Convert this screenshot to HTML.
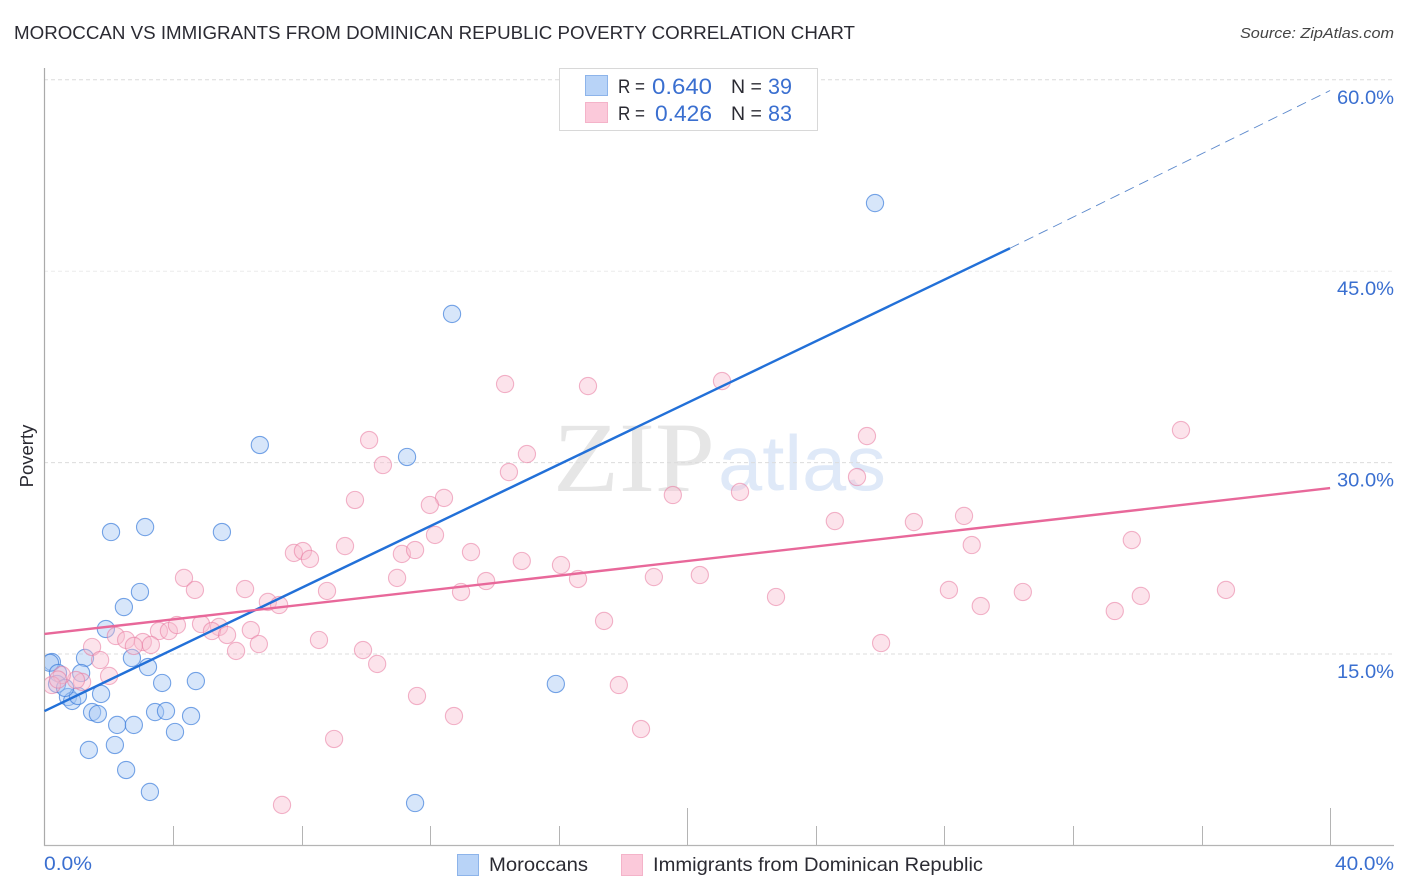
<!DOCTYPE html>
<html lang="en">
<head>
<meta charset="utf-8">
<title>Moroccan vs Immigrants from Dominican Republic Poverty Correlation Chart</title>
<style>
html,body{margin:0;padding:0;background:#fff;}
svg{display:block;font-family:"Liberation Sans",sans-serif;}
</style>
</head>
<body>
<svg id="chart" xmlns="http://www.w3.org/2000/svg" width="1406" height="892" viewBox="0 0 1406 892">
<defs><clipPath id="plot-clip"><rect x="45" y="60" width="1350" height="786"/></clipPath></defs>
<rect width="1406" height="892" fill="#fff"/>
<g>
<text x="553" y="491" font-family="'Liberation Serif',serif" font-size="100" fill="#e6e6e6" textLength="162" lengthAdjust="spacingAndGlyphs">ZIP</text>
<text x="718" y="490" font-size="78" fill="#dfe9f8" textLength="168" lengthAdjust="spacingAndGlyphs">atlas</text>
</g>
<g id="grid"></g>
<g id="axes"></g>
<g clip-path="url(#plot-clip)">
<g id="series-moroccans"></g>
<g id="series-dominican"></g>
</g>
<g id="trends"></g>
<g id="ylabels"></g>
<text x="14" y="39" font-size="18.5" fill="#2b2b33" textLength="841" lengthAdjust="spacingAndGlyphs">MOROCCAN VS IMMIGRANTS FROM DOMINICAN REPUBLIC POVERTY CORRELATION CHART</text>
<text x="1394" y="38" text-anchor="end" font-size="15" font-style="italic" fill="#444" textLength="154" lengthAdjust="spacingAndGlyphs">Source: ZipAtlas.com</text>
<text transform="translate(33,456) rotate(-90)" text-anchor="middle" font-size="18.5" fill="#2b2b33">Poverty</text>
<g>
<rect x="559.5" y="68.5" width="258" height="62" fill="#fff" stroke="#d8d8d8"/>
<rect x="585.5" y="75.5" width="22" height="20" fill="#b8d3f7" stroke="#8db4ea"/>
<rect x="585.5" y="102.5" width="22" height="20" fill="#fbc9da" stroke="#f4b3c9"/>
<text x="618" y="93" font-size="19.5" fill="#2b2b33" textLength="27" lengthAdjust="spacingAndGlyphs">R =</text>
<text x="652" y="94" font-size="22" fill="#3a6fd0" textLength="60" lengthAdjust="spacingAndGlyphs">0.640</text>
<text x="731" y="93" font-size="19.5" fill="#2b2b33">N =</text>
<text x="768" y="94" font-size="22" fill="#3a6fd0" textLength="24" lengthAdjust="spacingAndGlyphs">39</text>
<text x="618" y="120" font-size="19.5" fill="#2b2b33" textLength="27" lengthAdjust="spacingAndGlyphs">R =</text>
<text x="655" y="121" font-size="22" fill="#3a6fd0" textLength="57" lengthAdjust="spacingAndGlyphs">0.426</text>
<text x="731" y="120" font-size="19.5" fill="#2b2b33">N =</text>
<text x="768" y="121" font-size="22" fill="#3a6fd0" textLength="24" lengthAdjust="spacingAndGlyphs">83</text>
</g>
<text x="44" y="870" font-size="19.5" fill="#3a6fd0" textLength="48" lengthAdjust="spacingAndGlyphs">0.0%</text>
<text x="1394" y="870" text-anchor="end" font-size="19.5" fill="#3a6fd0" textLength="59" lengthAdjust="spacingAndGlyphs">40.0%</text>
<g>
<rect x="457.5" y="854.5" width="21" height="21" fill="#b8d3f7" stroke="#8db4ea"/>
<text x="489" y="871" font-size="19.5" fill="#2b2b33" textLength="99" lengthAdjust="spacingAndGlyphs">Moroccans</text>
<rect x="621.5" y="854.5" width="21" height="21" fill="#fbc9da" stroke="#f4b3c9"/>
<text x="653" y="871" font-size="19.5" fill="#2b2b33" textLength="330" lengthAdjust="spacingAndGlyphs">Immigrants from Dominican Republic</text>
</g>
</svg>
<script>
var yTicks = [15, 30, 45, 60];
var yTickLabels = ['15.0%', '30.0%', '45.0%', '60.0%'];
var xTicks = [4, 8, 12, 16, 20, 24, 28, 32, 36, 40];
var majorXTicks = [20, 40];

var moroccanX = [25.84,12.68,6.70,11.28,2.07,3.13,5.52,2.97,2.47,1.91,1.26,2.72,3.22,1.14,3.66,4.71,15.91,1.76,0.73,0.86,1.04,1.48,1.66,3.44,3.78,4.56,2.26,2.78,4.06,2.19,1.38,2.54,3.28,11.53,0.23,0.17,0.42,0.39,0.64];
var moroccanY = [50.34,41.65,31.38,30.44,24.56,24.95,24.56,19.86,18.68,16.96,14.69,14.69,13.98,13.51,12.73,12.88,12.65,11.87,11.63,11.32,11.71,10.45,10.30,10.45,10.53,10.14,9.44,9.44,8.89,7.87,7.48,5.91,4.19,3.32,14.37,14.30,13.51,12.65,12.34];

var dominicanX = [14.33,16.91,21.08,10.10,10.53,15.01,14.45,25.59,35.36,25.28,9.66,12.43,11.99,19.55,21.64,24.59,27.05,28.61,12.15,9.35,28.85,33.83,7.76,8.04,8.26,11.12,11.53,13.27,14.85,16.07,20.39,18.96,16.60,13.74,10.97,4.34,4.68,6.24,8.79,12.96,28.14,30.44,34.11,36.76,22.76,29.13,33.30,6.95,7.30,17.41,6.42,3.56,3.87,4.12,4.87,5.43,5.21,5.68,2.22,2.54,3.06,2.78,3.31,1.48,6.67,5.96,8.54,9.91,26.03,10.35,1.73,2.01,1.17,0.98,17.87,11.59,12.74,18.56,9.01,7.39,0.54,0.23,0.42];
var dominicanY = [36.16,36.00,36.39,31.77,29.81,30.67,29.26,32.08,32.55,28.87,27.07,27.23,26.68,27.46,27.70,25.42,25.34,25.82,24.33,23.46,23.54,23.93,22.92,23.07,22.45,22.84,23.15,22.99,22.29,21.97,21.19,21.03,20.88,20.72,20.96,20.96,20.02,20.09,19.94,19.86,20.02,19.86,19.55,20.02,19.47,18.76,18.37,19.08,18.84,17.59,16.88,16.80,16.80,17.27,17.35,17.12,16.80,16.49,16.41,16.10,15.94,15.63,15.71,15.55,15.78,15.24,16.10,15.31,15.86,14.22,14.53,13.28,12.81,12.96,12.57,11.71,10.14,9.12,8.34,3.17,13.35,12.57,13.00];

var moroccanTrendX = [0, 30.04, 40];
var moroccanTrendY = [10.53, 46.8, 59.16];
var dominicanTrendX = [0, 40];
var dominicanTrendY = [16.57, 28.0];

var SVGNS = 'http://www.w3.org/2000/svg';
function xScale(v) { return 44.5 + v * 32.14; }
function yScale(v) { return 654 - (v - 15) * 12.76; }
function make(tag, attrs, parent) {
  var el = document.createElementNS(SVGNS, tag);
  for (var k in attrs) { el.setAttribute(k, attrs[k]); }
  parent.appendChild(el);
  return el;
}

var grid = document.getElementById('grid');
var ylabels = document.getElementById('ylabels');
yTicks.forEach(function (t, i) {
  var line = make('line', {x1: 44, x2: 1394, y1: yScale(t), y2: yScale(t), stroke: i === 2 ? '#ececec' : '#dcdcdc', 'stroke-dasharray': '4 3'}, grid);
  
  
  var label = make('text', {x: 1394, y: yScale(t) + 24, 'text-anchor': 'end', 'font-size': 19.5, fill: '#3a6fd0', textLength: 57, lengthAdjust: 'spacingAndGlyphs'}, ylabels);
  label.textContent = yTickLabels[i];
  
  
});

var axes = document.getElementById('axes');
var yAxis = make('line', {x1: 44.5, x2: 44.5, y1: 68, y2: 846, stroke: '#aaa', 'stroke-width': 1.2}, axes);


var xAxis = make('line', {x1: 44, x2: 1394, y1: 845.5, y2: 845.5, stroke: '#b4b4b4', 'stroke-width': 1.2}, axes);


xTicks.forEach(function (t) {
  var top = majorXTicks.indexOf(t) >= 0 ? 808 : 826;
  var tick = make('line', {x1: Math.round(xScale(t)) + 0.5, x2: Math.round(xScale(t)) + 0.5, y1: top, y2: 846, stroke: '#b4b4b4', 'stroke-width': 1}, axes);
  
  
});

var moroccanGroup = document.getElementById('series-moroccans');
moroccanX.forEach(function (x, i) {
  var c = make('circle', {cx: xScale(x), cy: yScale(moroccanY[i]), r: 8.6, fill: '#a6c8f3', 'fill-opacity': 0.45, stroke: '#3f7fdc', 'stroke-opacity': 0.7, 'stroke-width': 1.1}, moroccanGroup);
  
  
});

var dominicanGroup = document.getElementById('series-dominican');
dominicanX.forEach(function (x, i) {
  var c = make('circle', {cx: xScale(x), cy: yScale(dominicanY[i]), r: 8.6, fill: '#f8bcd0', 'fill-opacity': 0.42, stroke: '#e8799f', 'stroke-opacity': 0.55, 'stroke-width': 1.1}, dominicanGroup);
  
  
});

var trends = document.getElementById('trends');
var blueSolid = make('line', {x1: xScale(moroccanTrendX[0]), y1: yScale(moroccanTrendY[0]), x2: xScale(moroccanTrendX[1]), y2: yScale(moroccanTrendY[1]), stroke: '#2270d8', 'stroke-width': 2.4}, trends);


var blueDash = make('line', {x1: xScale(moroccanTrendX[1]), y1: yScale(moroccanTrendY[1]), x2: xScale(moroccanTrendX[2]), y2: yScale(moroccanTrendY[2]), stroke: '#5b88cc', 'stroke-width': 0.9, 'stroke-dasharray': '10 6'}, trends);


var pinkLine = make('line', {x1: xScale(dominicanTrendX[0]), y1: yScale(dominicanTrendY[0]), x2: xScale(dominicanTrendX[1]), y2: yScale(dominicanTrendY[1]), stroke: '#e8689a', 'stroke-width': 2.4}, trends);


</script>
</body>
</html>
